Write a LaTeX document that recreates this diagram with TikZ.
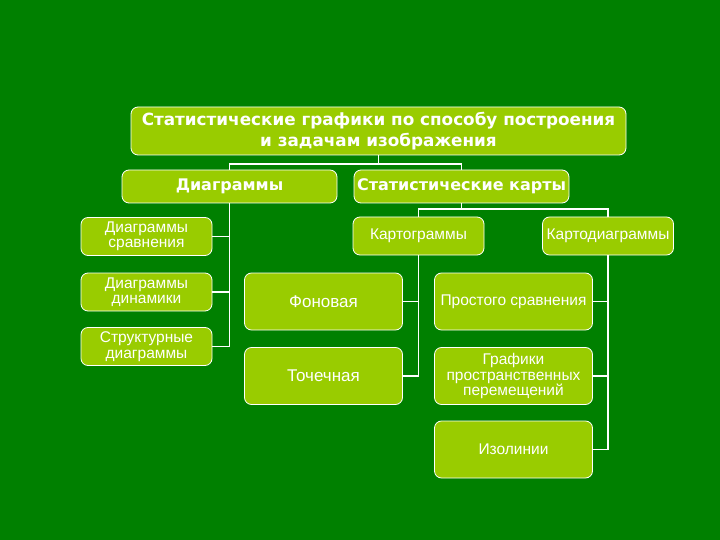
\documentclass[tikz,border=0pt]{standalone}
\usepackage{fontspec}
\setmainfont{Liberation Sans}
\newfontfamily\headfont{DejaVu Sans}
\usepackage{tikz}
\usetikzlibrary{positioning}
\definecolor{bggreen}{HTML}{008000}
\definecolor{boxgreen}{HTML}{99CC00}

\begin{document}
\begin{tikzpicture}[
            x=1pt, y=-1pt,
            box/.style={rectangle, draw=white, line width=0.8pt, rounded corners=7pt, fill=boxgreen, text=white, align=center, inner sep=2pt},
            headbox/.style={box, font=\headfont\bfseries\fontsize{16}{20}\selectfont},
            smallbox/.style={box, minimum width=131pt, minimum height=38pt, font=\fontsize{15.5}{15.5}\selectfont},
            bigbox/.style={box, minimum width=158pt, minimum height=57pt, font=\fontsize{15.5}{15.5}\selectfont},
            link/.style={draw=white, line width=1.5pt}
        ]

        % Background
        \fill[bggreen] (0,0) rectangle (720,540);
        \useasboundingbox (0,0) rectangle (720,540);

        % Top level
        \node[headbox, font=\headfont\bfseries\fontsize{16.8}{21}\selectfont, minimum width=495pt, minimum height=48pt] (top) at (378.5,131) {Статистические графики по способу построения\\и задачам изображения};

        % Second level
        \node[headbox, minimum width=215pt, minimum height=33pt] (diag) at (229.5,186.5) {Диаграммы};
        \node[headbox, minimum width=215pt, minimum height=33pt] (maps) at (461.5,186.5) {Статистические карты};

        % Diagrams
        \node[smallbox] (cmp) at (146.5,236.5) {Диаграммы\\сравнения};
        \node[smallbox] (dyn) at (146.5,292) {Диаграммы\\динамики};
        \node[smallbox] (str) at (146.5,346.5) {Структурные\\диаграммы};

        % Maps
        \node[smallbox] (kgr) at (418.5,236) {Картограммы};
        \node[smallbox] (kdg) at (608,236) {Картодиаграммы};

        \node[bigbox, font=\fontsize{17}{17}\selectfont] (fon) at (323.5,301.5) {Фоновая};
        \node[bigbox, font=\fontsize{17}{17}\selectfont] (toch) at (323.5,376) {Точечная};

        \node[bigbox] (prost) at (513.5,301.5) {Простого сравнения};
        \node[bigbox] (graf) at (513.5,376) {Графики\\пространственных\\перемещений};
        \node[bigbox] (izol) at (513.5,449.5) {Изолинии};

        % Connectors
        \coordinate (j1) at (378.5,164);
        \coordinate (j2) at (461.5,209);
        \draw[link] (top.south) -- (j1);
        \draw[link] (diag.north) |- (j1) -| (maps.north);
        \draw[link] (diag.south) |- (cmp.east);
        \draw[link] (diag.south) |- (dyn.east);
        \draw[link] (diag.south) |- (str.east);
        \draw[link] (maps.south) -- (j2);
        \draw[link] (kgr.north) |- (j2) -| (kdg.north);
        \draw[link] (kgr.south) |- (fon.east);
        \draw[link] (kgr.south) |- (toch.east);
        \draw[link] (kdg.south) |- (prost.east);
        \draw[link] (kdg.south) |- (graf.east);
        \draw[link] (kdg.south) |- (izol.east);

\end{tikzpicture}
\end{document}
